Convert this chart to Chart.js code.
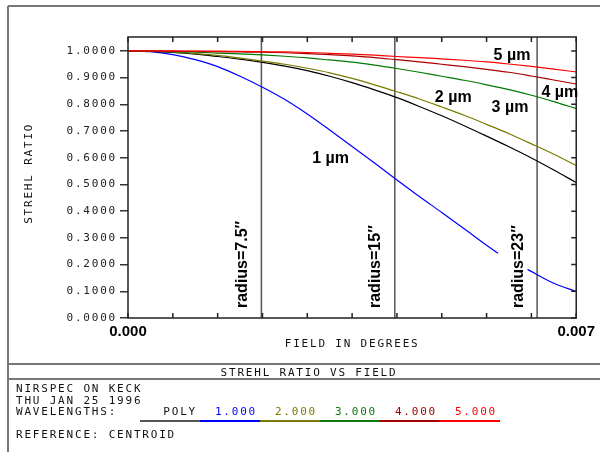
<!DOCTYPE html>
<html>
<head>
<meta charset="utf-8">
<script src="https://cdn.jsdelivr.net/npm/chart.js@4/dist/chart.umd.min.js"></script>
<style>
html, body { margin: 0; padding: 0; background: #fff; }
#wrap { width: 600px; height: 452px; }
</style>
</head>
<body>
<div id="wrap"><canvas id="strehl" width="600" height="452"></canvas></div>
<script>
// field angle (degrees)
const fieldDeg = [0, 0.00035, 0.0007, 0.00105, 0.0014, 0.00175, 0.0021, 0.00245, 0.0028, 0.00315, 0.0035,
                  0.00385, 0.0042, 0.00455, 0.0049, 0.00525, 0.0056, 0.00595, 0.0063, 0.00665, 0.007]

// strehl ratio per wavelength
const polyStrehl = [1.0, 0.998, 0.994, 0.988, 0.979, 0.969, 0.957, 0.943, 0.926, 0.905, 0.881,
                    0.854, 0.825, 0.792, 0.757, 0.720, 0.681, 0.641, 0.599, 0.554, 0.507]
const um2Strehl = [1.0, 0.999, 0.996, 0.990, 0.983, 0.973, 0.962, 0.950, 0.935, 0.918, 0.897,
                   0.873, 0.847, 0.820, 0.790, 0.759, 0.725, 0.690, 0.652, 0.613, 0.571]
const um3Strehl = [1.0, 0.999, 0.997, 0.995, 0.992, 0.989, 0.985, 0.980, 0.974, 0.966, 0.958,
                   0.947, 0.934, 0.920, 0.905, 0.890, 0.873, 0.855, 0.834, 0.810, 0.784]
const um4Strehl = [1.0, 1.0, 0.999, 0.998, 0.997, 0.996, 0.995, 0.993, 0.990, 0.986, 0.981,
                   0.975, 0.967, 0.959, 0.950, 0.941, 0.931, 0.920, 0.906, 0.891, 0.876]
const um5Strehl = [1.0, 1.0, 1.0, 0.999, 0.999, 0.998, 0.997, 0.996, 0.994, 0.991, 0.988,
                   0.984, 0.979, 0.975, 0.970, 0.965, 0.959, 0.951, 0.942, 0.932, 0.921]
// 1 um curve is broken near the radius=23 label
const um1Field = [0, 0.00035, 0.0007, 0.00105, 0.0014, 0.00175, 0.0021, 0.00245, 0.0028, 0.00315, 0.0035,
                  0.00385, 0.0042, 0.00455, 0.0049, 0.00525, 0.0056, 0.00578, 0.006, 0.00624, 0.00665, 0.007]
const um1Strehl = [1.0, 0.997, 0.986, 0.967, 0.941, 0.905, 0.864, 0.818, 0.764, 0.704, 0.642,
                   0.580, 0.517, 0.455, 0.395, 0.334, 0.272, 0.242, null, 0.182, 0.130, 0.099]

const xTickValues = [0, 0.0007, 0.0014, 0.0021, 0.0028, 0.0035, 0.0042, 0.0049, 0.0056, 0.0063, 0.007]
const xTickLabels = ['0.000', '', '', '', '', '', '', '', '', '', '0.007']
const yTickValues = [0, 0.1, 0.2, 0.3, 0.4, 0.5, 0.6, 0.7, 0.8, 0.9, 1.0]

// field radius markers (arcsec)
const radiusArcsec = [7.5, 15, 23]
const radiusLabels = ['radius=7.5\u2033', 'radius=15\u2033', 'radius=23\u2033']

// curve labels, placed in data coords
const curveLabels = ['1 \u00b5m', '2 \u00b5m', '3 \u00b5m', '5 \u00b5m', '4 \u00b5m']
const curveLabelField = [0.003165, 0.005079, 0.005965, 0.005997, 0.006743]
const curveLabelStrehl = [0.596, 0.824, 0.788, 0.983, 0.843]

const legendNames = ['POLY', '1.000', '2.000', '3.000', '4.000', '5.000']
const legendColors = ['#555555', '#0000ff', '#7a7a00', '#0a7a0a', '#a80000', '#ff0000']

const plotterFont = '11px "DejaVu Sans Mono"'

function pts(xs, ys) {
    return xs.map((x, i) => ({x: x, y: ys[i]}))
}

function curve(label, xs, ys, color) {
    return {
        label: label,
        data: pts(xs, ys),
        borderColor: color,
        borderWidth: 1.2,
        pointRadius: 0,
        fill: false,
        cubicInterpolationMode: 'monotone',
        spanGaps: false,
    }
}

const decor = {
    id: 'decor',
    beforeDraw(chart) {
        const ctx = chart.ctx
        ctx.save()
        ctx.fillStyle = '#fff'
        ctx.fillRect(0, 0, chart.width, chart.height)
        ctx.restore()
        ctx.letterSpacing = '1.8px' // wide plotter lettering for y ticks and axis titles
    },
    beforeDatasetsDraw(chart) {
        const ctx = chart.ctx
        ctx.letterSpacing = '0px'
        const {top, bottom} = chart.chartArea
        const xs = chart.scales.x
        ctx.save()
        radiusArcsec.forEach((r, i) => {
            const px = xs.getPixelForValue(r / 3600)
            ctx.strokeStyle = '#555'
            ctx.lineWidth = 1.5
            ctx.beginPath()
            ctx.moveTo(px, top)
            ctx.lineTo(px, bottom)
            ctx.stroke()
            ctx.save()
            ctx.translate(px - 19, bottom - 10)
            ctx.rotate(-Math.PI / 2)
            ctx.fillStyle = '#000'
            ctx.font = 'bold 16px "Liberation Sans"'
            ctx.textAlign = 'left'
            ctx.textBaseline = 'middle'
            ctx.fillText(radiusLabels[i], 0, 0)
            ctx.restore()
        })
        ctx.restore()
    },
    afterDraw(chart) {
        const ctx = chart.ctx
        const {left, right, top, bottom} = chart.chartArea
        const xs = chart.scales.x
        const ys = chart.scales.y
        ctx.save()
        ctx.letterSpacing = '0px'

        // plot frame + inward ticks
        ctx.strokeStyle = '#222'
        ctx.lineWidth = 1.5
        ctx.strokeRect(left, top, right - left, bottom - top)
        ctx.beginPath()
        xTickValues.forEach(v => {
            const px = xs.getPixelForValue(v)
            ctx.moveTo(px, bottom); ctx.lineTo(px, bottom - 5)
            ctx.moveTo(px, top); ctx.lineTo(px, top + 5)
        })
        yTickValues.forEach(v => {
            const py = ys.getPixelForValue(v)
            ctx.moveTo(right, py); ctx.lineTo(right - 5, py)
        })
        ctx.stroke()

        // curve labels
        ctx.fillStyle = '#000'
        ctx.font = 'bold 16px "Liberation Sans"'
        ctx.textAlign = 'center'
        ctx.textBaseline = 'middle'
        curveLabels.forEach((t, i) => {
            ctx.fillText(t, xs.getPixelForValue(curveLabelField[i]), ys.getPixelForValue(curveLabelStrehl[i]))
        })

        // outer frame and title strip
        ctx.strokeStyle = '#777'
        ctx.lineWidth = 2
        ctx.beginPath()
        ctx.moveTo(8, 6); ctx.lineTo(600, 6)
        ctx.moveTo(8, 6); ctx.lineTo(8, 452)
        ctx.moveTo(8, 364); ctx.lineTo(600, 364)
        ctx.moveTo(8, 379); ctx.lineTo(600, 379)
        ctx.stroke()

        ctx.letterSpacing = '1.8px'
        ctx.font = plotterFont
        ctx.fillStyle = '#111'
        ctx.textBaseline = 'alphabetic'
        ctx.textAlign = 'center'
        ctx.fillText('STREHL RATIO VS FIELD', 309, 376)
        ctx.textAlign = 'left'
        ctx.fillText('NIRSPEC ON KECK', 16, 392)
        ctx.fillText('THU JAN 25 1996', 16, 403.5)
        ctx.fillText('WAVELENGTHS:', 16, 414.5)
        ctx.fillText('REFERENCE: CENTROID', 16, 437.5)

        // wavelength legend with coloured underlines
        legendNames.forEach((name, i) => {
            const x0 = 140 + i * 60
            ctx.fillStyle = i == 0 ? '#111' : legendColors[i]
            ctx.textAlign = 'right'
            ctx.fillText(name, x0 + 57, 414.5)
            ctx.strokeStyle = legendColors[i]
            ctx.lineWidth = 2
            ctx.beginPath()
            ctx.moveTo(x0, 421); ctx.lineTo(x0 + 60, 421)
            ctx.stroke()
        })
        ctx.restore()
    }
}

const datasets = [
    curve('5.000', fieldDeg, um5Strehl, '#ff0000'),
    curve('4.000', fieldDeg, um4Strehl, '#a80000'),
    curve('3.000', fieldDeg, um3Strehl, '#007a00'),
    curve('2.000', fieldDeg, um2Strehl, '#7a7a00'),
    curve('POLY', fieldDeg, polyStrehl, '#000000'),
    curve('1.000', um1Field, um1Strehl, '#0000ff'),
]

const chartEle = document.getElementById('strehl')
const chart = new Chart(chartEle, {
    type: 'line',
    data: {datasets: datasets},
    options: {
        responsive: false,
        animation: false,
        layout: {padding: {left: 8, top: 37, right: 22, bottom: 94}},
        plugins: {legend: {display: false}, tooltip: {enabled: false}},
        scales: {
            x: {
                type: 'linear',
                min: 0,
                max: 0.007,
                afterBuildTicks: s => { s.ticks = xTickValues.map(v => ({value: v})) },
                afterFit: s => { s.height = 40 },
                border: {display: false},
                grid: {display: false, drawTicks: false},
                ticks: {
                    z: 1, padding: 5, maxRotation: 0, autoSkip: false, color: '#000',
                    font: {family: 'Liberation Sans', size: 15, weight: 'bold'},
                    callback: (v, i) => xTickLabels[i],
                },
                title: {
                    display: true, text: 'FIELD IN DEGREES', color: '#111',
                    font: {family: 'DejaVu Sans Mono', size: 11},
                    padding: {top: 0, bottom: 7},
                },
            },
            y: {
                type: 'linear',
                min: 0,
                max: 1.052,
                afterBuildTicks: s => { s.ticks = yTickValues.map(v => ({value: v})) },
                afterFit: s => { s.width = 120 },
                border: {display: false},
                grid: {drawOnChartArea: false, tickLength: 8, color: '#333', lineWidth: 1.5},
                ticks: {
                    padding: 3, color: '#222', autoSkip: false,
                    font: {family: 'DejaVu Sans Mono', size: 11},
                    callback: v => v.toFixed(4),
                },
                title: {
                    display: true, text: ' STREHL RATIO', color: '#111',
                    font: {family: 'DejaVu Sans Mono', size: 11},
                    padding: {top: 15, bottom: 0},
                },
            },
        },
    },
    plugins: [decor],
})
</script>
</body>
</html>
